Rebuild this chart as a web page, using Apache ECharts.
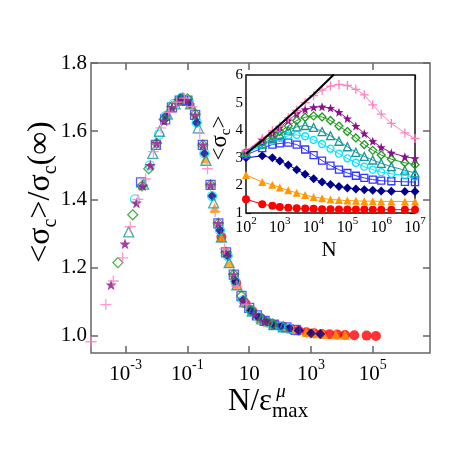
<!DOCTYPE html>
<html><head><meta charset="utf-8">
<script src="https://cdn.jsdelivr.net/npm/echarts@6/dist/echarts.min.js"></script>
<style>html,body{margin:0;padding:0;background:#fff}#c{width:452px;height:452px}</style>
</head><body><div id="c"></div>
<script>
// ---------- inset data: log10(N) and <sigma_c> ----------
const insetLogN   = [2.0, 2.48, 2.78, 3.0, 3.25, 3.5, 3.75, 4.0, 4.25, 4.5, 4.75, 5.0, 5.25, 5.5, 5.75, 6.0, 6.3, 6.7, 7.0];
const insetRed    = [1.5, 1.32, 1.26, 1.22, 1.19, 1.17, 1.16, 1.15, 1.14, 1.14, 1.13, 1.13, 1.13, 1.13, 1.12, 1.12, 1.12, 1.12, 1.12];
const insetOrange = [2.38, 2.12, 2.02, 1.92, 1.82, 1.73, 1.65, 1.58, 1.53, 1.49, 1.47, 1.45, 1.44, 1.43, 1.43, 1.42, 1.42, 1.42, 1.42];
const insetNavy   = [3.0, 3.07, 3.0, 2.88, 2.74, 2.57, 2.4, 2.24, 2.12, 2.03, 1.96, 1.91, 1.87, 1.84, 1.82, 1.8, 1.79, 1.78, 1.78];
const insetBlue   = [3.1, 3.35, 3.48, 3.52, 3.55, 3.48, 3.3, 3.1, 2.9, 2.72, 2.57, 2.45, 2.35, 2.27, 2.21, 2.17, 2.15, 2.13, 2.12];
const insetCyan   = [3.15, 3.45, 3.62, 3.72, 3.8, 3.83, 3.78, 3.65, 3.5, 3.33, 3.15, 2.98, 2.82, 2.68, 2.57, 2.48, 2.42, 2.36, 2.32];
const insetTeal   = [3.2, 3.5, 3.7, 3.85, 4.0, 4.12, 4.17, 4.1, 3.95, 3.8, 3.6, 3.4, 3.2, 3.05, 2.92, 2.8, 2.68, 2.55, 2.45];
const insetGreen  = [3.2, 3.55, 3.8, 3.95, 4.15, 4.35, 4.47, 4.52, 4.48, 4.35, 4.15, 3.95, 3.72, 3.48, 3.27, 3.1, 2.95, 2.82, 2.75];
const insetPurple = [3.25, 3.65, 3.9, 4.1, 4.35, 4.6, 4.75, 4.83, 4.85, 4.8, 4.65, 4.42, 4.15, 3.88, 3.6, 3.38, 3.18, 3.04, 2.98];
const insetPink   = [3.25, 3.7, 3.98, 4.15, 4.45, 4.72, 5.0, 5.25, 5.45, 5.6, 5.66, 5.62, 5.48, 5.28, 4.92, 4.58, 4.25, 3.9, 3.7];
const blackLogN   = [2.0, 2.5, 3.0, 3.5, 4.0, 4.6];
const blackSigma  = [3.15, 3.65, 4.2, 4.75, 5.3, 6.02];

// ---------- main data: log10(N/eps^mu) and <sigma_c>/sigma_c(inf) ----------
const mainRedX    = [0.1, 0.58, 0.88, 1.1, 1.35, 1.6, 1.85, 2.1, 2.35, 2.6, 2.85, 3.1, 3.35, 3.6, 3.85, 4.1, 4.4, 4.8, 5.1];
const mainRedY    = [1.29, 1.155, 1.095, 1.073, 1.053, 1.04, 1.032, 1.027, 1.021, 1.016, 1.011, 1.008, 1.006, 1.005, 1.004, 1.003, 1.002, 1.001, 1.0];
const mainOrangeX = [-0.9, -0.42, -0.12, 0.1, 0.35, 0.6, 0.85, 1.1, 1.35, 1.6, 1.85, 2.1, 2.35, 2.6, 2.85, 3.1, 3.4, 3.8, 4.1];
const mainOrangeY = [1.68, 1.52, 1.375, 1.29, 1.215, 1.15, 1.1, 1.073, 1.053, 1.04, 1.032, 1.027, 1.021, 1.016, 1.011, 1.008, 1.006, 1.004, 1.003];
const mainNavyX   = [-1.7, -1.22, -0.92, -0.7, -0.45, -0.2, 0.05, 0.3, 0.55, 0.8, 1.05, 1.3, 1.55, 1.8, 2.05, 2.3, 2.6, 3.0, 3.3];
const mainNavyY   = [1.645, 1.698, 1.68, 1.625, 1.535, 1.41, 1.31, 1.235, 1.16, 1.105, 1.075, 1.055, 1.042, 1.033, 1.028, 1.022, 1.016, 1.008, 1.006];
const mainBlueX   = [-2.5, -2.02, -1.72, -1.5, -1.25, -1.0, -0.75, -0.5, -0.25, 0.0, 0.25, 0.5, 0.75, 1.0, 1.25, 1.5, 1.8, 2.2, 2.5];
const mainBlueY   = [1.45, 1.56, 1.635, 1.67, 1.69, 1.69, 1.648, 1.56, 1.443, 1.33, 1.245, 1.18, 1.117, 1.082, 1.06, 1.044, 1.033, 1.025, 1.018];
const mainCyanX   = [-2.7, -2.22, -1.92, -1.7, -1.45, -1.2, -0.95, -0.7, -0.45, -0.2, 0.05, 0.3, 0.55, 0.8, 1.05, 1.3, 1.6, 2.0, 2.3];
const mainCyanY   = [1.40, 1.50, 1.59, 1.645, 1.68, 1.698, 1.685, 1.625, 1.535, 1.41, 1.31, 1.235, 1.16, 1.105, 1.075, 1.055, 1.04, 1.029, 1.022];
const mainTealX   = [-2.9, -2.42, -2.12, -1.9, -1.65, -1.4, -1.15, -0.9, -0.65, -0.4, -0.15, 0.1, 0.35, 0.6, 0.85, 1.1, 1.4, 1.8, 2.1];
const mainTealY   = [1.305, 1.445, 1.535, 1.6, 1.65, 1.68, 1.697, 1.68, 1.61, 1.515, 1.39, 1.29, 1.215, 1.15, 1.1, 1.073, 1.05, 1.033, 1.027];
const mainGreenX  = [-3.25, -2.77, -2.47, -2.25, -2.0, -1.75, -1.5, -1.25, -1.0, -0.75, -0.5, -0.25, 0.0, 0.25, 0.5, 0.75, 1.05, 1.45, 1.75];
const mainGreenY  = [1.215, 1.355, 1.44, 1.49, 1.565, 1.635, 1.672, 1.692, 1.695, 1.65, 1.56, 1.443, 1.33, 1.245, 1.18, 1.117, 1.075, 1.048, 1.035];
const mainPurpleX = [-3.47, -3.02, -2.65, -2.45, -2.2, -2.0, -1.75, -1.5, -1.25, -1.0, -0.75, -0.5, -0.25, 0.0, 0.25, 0.5, 0.8, 1.2, 1.5];
const mainPurpleY = [1.15, 1.27, 1.39, 1.44, 1.5, 1.565, 1.63, 1.67, 1.69, 1.69, 1.648, 1.56, 1.443, 1.33, 1.245, 1.18, 1.105, 1.063, 1.044];
const mainPinkX   = [-4.12, -3.64, -3.4, -3.1, -2.85, -2.6, -2.35, -2.1, -1.85, -1.6, -1.35, -1.1, -0.85, -0.6, -0.35, -0.1, 0.2, 0.6, 0.9];
const mainPinkY   = [0.983, 1.092, 1.161, 1.229, 1.32, 1.40, 1.46, 1.54, 1.61, 1.655, 1.685, 1.697, 1.672, 1.594, 1.49, 1.365, 1.255, 1.145, 1.093];

// ---------- ticks ----------
const mainXTicks    = [-3, -1, 1, 3, 5];
const mainXTopTicks = [-3, -1, 1, 5];
const mainYTicks    = [1.0, 1.2, 1.4, 1.6, 1.8];

const FONT = "'Liberation Serif','DejaVu Serif',serif";
const STAR = 'path://M0,-10L2.35,-3.24L9.51,-3.09L3.8,1.24L5.88,8.09L0,4L-5.88,8.09L-3.8,1.24L-9.51,-3.09L-2.35,-3.24Z';
const PLUS = 'path://M-5,0L5,0M0,-5L0,5';

const styles = [
  {name:'red',    color:'#ff0000', symbol:'circle',   filled:true,  ms:10, is:8,  mx:mainRedX,    my:mainRedY,    iy:insetRed},
  {name:'orange', color:'#ff9900', symbol:'triangle', filled:true,  ms:10, is:8,  mx:mainOrangeX, my:mainOrangeY, iy:insetOrange},
  {name:'navy',   color:'#00008b', symbol:'diamond',  filled:true,  ms:10, is:9,  mx:mainNavyX,   my:mainNavyY,   iy:insetNavy},
  {name:'blue',   color:'#3535ff', symbol:'rect',     filled:false, ms:9,  is:7,  mx:mainBlueX,   my:mainBlueY,   iy:insetBlue},
  {name:'cyan',   color:'#00e5ff', symbol:'circle',   filled:false, ms:9,  is:7,  mx:mainCyanX,   my:mainCyanY,   iy:insetCyan},
  {name:'teal',   color:'#1a9696', symbol:'triangle', filled:false, ms:10, is:8,  mx:mainTealX,   my:mainTealY,   iy:insetTeal},
  {name:'green',  color:'#1f9a1f', symbol:'diamond',  filled:false, ms:10, is:8,  mx:mainGreenX,  my:mainGreenY,  iy:insetGreen},
  {name:'purple', color:'#8b108b', symbol:STAR,       filled:true,  ms:11, is:9,  mx:mainPurpleX, my:mainPurpleY, iy:insetPurple},
  {name:'pink',   color:'#ff80c0', symbol:PLUS,       filled:false, ms:11, is:9,  mx:mainPinkX,   my:mainPinkY,   iy:insetPink}
];

function zip(a, b) { return a.map((v, i) => [v, b[i]]); }
function itemStyleOf(s) {
  return s.filled ? {color: s.color, borderWidth: 0}
                  : {color: 'rgba(0,0,0,0)', borderColor: s.color, borderWidth: 1.3};
}

const series = [];
styles.forEach(s => {
  series.push({
    type: 'scatter', xAxisIndex: 0, yAxisIndex: 0, name: 'm-' + s.name,
    data: zip(s.mx, s.my), symbol: s.symbol, symbolSize: s.ms,
    itemStyle: itemStyleOf(s), clip: false, silent: true
  });
});
styles.forEach(s => {
  series.push({
    type: 'line', xAxisIndex: 2, yAxisIndex: 2, name: 'i-' + s.name,
    data: zip(insetLogN, s.iy), symbol: s.symbol, symbolSize: s.is, showSymbol: true,
    lineStyle: {color: s.color, width: 1}, itemStyle: itemStyleOf(s), clip: true, silent: true,
    z: 3
  });
});
series.push({
  type: 'line', xAxisIndex: 2, yAxisIndex: 2, name: 'power-law',
  data: zip(blackLogN, blackSigma), showSymbol: false, symbol: 'none',
  lineStyle: {color: '#000', width: 2}, clip: true, silent: true, z: 4
});

const MAINC = '#666';
const INSC = '#111';
function supFmt(v) { const e = Math.round(v); return e === 1 ? '{b|10}' : '{b|10}{s|' + e + '}'; }
const NOLINE = {show: false, onZero: false};

const option = {
  animation: false,
  backgroundColor: '#fff',
  grid: [
    {left: 91, top: 63, width: 339, height: 290, show: true, borderColor: MAINC, borderWidth: 1.5, backgroundColor: 'rgba(0,0,0,0)'},
    {left: 246, top: 75, width: 169, height: 138, show: true, borderColor: INSC, borderWidth: 1.5, backgroundColor: '#fff', z: 1}
  ],
  xAxis: [
    {type: 'value', gridIndex: 0, min: -4.12, max: 6.85, position: 'bottom',
     axisLine: NOLINE, splitLine: {show: false},
     axisTick: {show: true, inside: true, length: 7, customValues: mainXTicks, lineStyle: {color: MAINC, width: 1.5}},
     axisLabel: {customValues: mainXTicks, formatter: supFmt, margin: 5, color: '#000',
       rich: {b: {fontFamily: FONT, fontSize: 21, lineHeight: 32, color: '#000'},
              s: {fontFamily: FONT, fontSize: 14, lineHeight: 14, verticalAlign: 'top', color: '#000'}}}},
    {type: 'value', gridIndex: 0, min: -4.12, max: 6.85, position: 'top',
     axisLine: NOLINE, splitLine: {show: false}, axisLabel: {show: false},
     axisTick: {show: true, inside: true, length: 7, customValues: mainXTopTicks, lineStyle: {color: MAINC, width: 1.5}}},
    {type: 'value', gridIndex: 1, min: 2, max: 7, interval: 1, position: 'bottom',
     axisLine: NOLINE, splitLine: {show: false},
     axisTick: {show: true, inside: true, length: 5, lineStyle: {color: INSC, width: 1.2}},
     axisLabel: {formatter: supFmt, margin: 3, color: '#000',
       rich: {b: {fontFamily: FONT, fontSize: 16, lineHeight: 24, color: '#000'},
              s: {fontFamily: FONT, fontSize: 11, lineHeight: 11, verticalAlign: 'top', color: '#000'}}}},
    {type: 'value', gridIndex: 1, min: 2, max: 7, interval: 1, position: 'top',
     axisLine: NOLINE, splitLine: {show: false}, axisLabel: {show: false},
     axisTick: {show: true, inside: true, length: 5, lineStyle: {color: INSC, width: 1.2}}}
  ],
  yAxis: [
    {type: 'value', gridIndex: 0, min: 0.95, max: 1.8, position: 'left',
     axisLine: NOLINE, splitLine: {show: false},
     axisTick: {show: true, inside: true, length: 7, customValues: mainYTicks, lineStyle: {color: MAINC, width: 1.5}},
     axisLabel: {customValues: mainYTicks, formatter: v => v.toFixed(1), margin: 4, color: '#000', fontFamily: FONT, fontSize: 21}},
    {type: 'value', gridIndex: 0, min: 0.95, max: 1.8, position: 'right',
     axisLine: NOLINE, splitLine: {show: false}, axisLabel: {show: false},
     axisTick: {show: true, inside: true, length: 7, customValues: mainYTicks, lineStyle: {color: MAINC, width: 1.5}}},
    {type: 'value', gridIndex: 1, min: 1, max: 6, interval: 1, position: 'left',
     axisLine: NOLINE, splitLine: {show: false},
     axisTick: {show: true, inside: true, length: 5, lineStyle: {color: INSC, width: 1.2}},
     axisLabel: {margin: 3, color: '#000', fontFamily: FONT, fontSize: 15}},
    {type: 'value', gridIndex: 1, min: 1, max: 6, interval: 1, position: 'right',
     axisLine: NOLINE, splitLine: {show: false}, axisLabel: {show: false},
     axisTick: {show: true, inside: true, length: 5, lineStyle: {color: INSC, width: 1.2}}}
  ],
  series: series,
  graphic: [
    {type: 'text', x: 41, y: 192, rotation: Math.PI / 2, silent: true,
     style: {text: '{a|<σ}{s|c}{a|>/σ}{s|c}{a|(∞)}', align: 'center', verticalAlign: 'middle',
       rich: {a: {fontFamily: FONT, fontSize: 32, lineHeight: 40, fill: '#000'},
              s: {fontFamily: FONT, fontSize: 20, lineHeight: 20, verticalAlign: 'bottom', fill: '#000'}}}},
    {type: 'text', x: 228, y: 402, silent: true,
     style: {text: 'N/ε', font: '31px ' + FONT, fill: '#000', align: 'left', verticalAlign: 'middle'}},
    {type: 'text', x: 281, y: 392, silent: true,
     style: {text: 'μ', font: 'italic 19px ' + FONT, fill: '#000', align: 'center', verticalAlign: 'middle'}},
    {type: 'text', x: 272, y: 411, silent: true,
     style: {text: 'max', font: '21px ' + FONT, fill: '#000', align: 'left', verticalAlign: 'middle'}},
    {type: 'text', x: 220, y: 138, rotation: Math.PI / 2, silent: true,
     style: {text: '{a|<σ}{s|c}{a|>}', align: 'center', verticalAlign: 'middle',
       rich: {a: {fontFamily: FONT, fontSize: 23, lineHeight: 28, fill: '#000'},
              s: {fontFamily: FONT, fontSize: 15, lineHeight: 15, verticalAlign: 'bottom', fill: '#000'}}}},
    {type: 'text', x: 329, y: 250, silent: true,
     style: {text: 'N', font: '21px ' + FONT, fill: '#000', align: 'center', verticalAlign: 'middle'}}
  ]
};

const chart = echarts.init(document.getElementById('c'), null, {renderer: 'canvas'});
chart.setOption(option);
</script></body></html>
